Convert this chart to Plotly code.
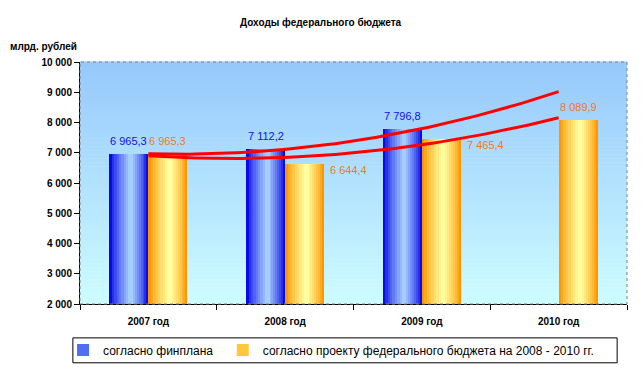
import plotly.graph_objects as go
import numpy as np

title = "Доходы федерального бюджета"
unit_label = "млрд. рублей"
categories = ["2007 год", "2008 год", "2009 год", "2010 год"]
finplan = [6965.3, 7112.2, 7796.8, None]
project = [6965.3, 6644.4, 7465.4, 8089.9]
series_names = ["согласно финплана", "согласно проекту федерального бюджета на 2008 - 2010 гг."]
project_label_pos = ["top", "right", "right", "top"]

FONT = "Arial, Liberation Sans, sans-serif"
x = list(range(len(categories)))
BW = 0.285  # bar width in category units


def fmt(v):
    return f"{v:,.1f}".replace(",", " ").replace(".", ",")


def lerp(c1, c2, t):
    return "rgb(%d,%d,%d)" % tuple(round(a + (b - a) * t) for a, b in zip(c1, c2))


fig = go.Figure()

# background gradient of plot area
nb = 60
bg_top, bg_bot = (150, 200, 252), (205, 252, 255)
for i in range(nb):
    fig.add_shape(type="rect", xref="paper", yref="paper", x0=0, x1=1,
                  y0=i / nb, y1=(i + 1) / nb + 0.002, line_width=0,
                  fillcolor=lerp(bg_bot, bg_top, (i + 0.5) / nb), layer="below")


def gradient_bars(vals, base_off, edge, light, name, legend_color, legend_id):
    layers = 9
    c = 0.55 * BW
    for k in range(layers):
        f = 1 - k / layers
        left = c - c * f
        right = c + (BW - c) * f
        t = (k / (layers - 1)) ** 0.8
        fig.add_trace(go.Bar(x=x, y=vals, width=right - left,
                             offset=base_off + left,
                             marker=dict(color=lerp(edge, light, t), line_width=0),
                             showlegend=False, hoverinfo="skip"))
    fig.add_trace(go.Bar(x=[None], y=[None], name=name, legend=legend_id,
                         marker=dict(color=legend_color, line_width=0), showlegend=True))


gradient_bars(finplan, -BW, (10, 10, 230), (165, 205, 255), series_names[0], "rgb(80,110,240)", "legend")
gradient_bars(project, 0.0, (255, 150, 0), (255, 255, 160), series_names[1], "rgb(255,200,60)", "legend2")

# polynomial (order 2) trendlines as in the original spreadsheet
xs = np.linspace(0, 3, 80)
for vals in (finplan, project):
    px = [i for i, v in zip(x, vals) if v is not None]
    py = [v for v in vals if v is not None]
    coef = np.polyfit(px, py, 2)
    fig.add_trace(go.Scatter(x=xs, y=np.polyval(coef, xs), mode="lines",
                             line=dict(color="#FF0000", width=3),
                             showlegend=False, hoverinfo="skip"))

# data labels
for i, v in enumerate(finplan):
    if v is None:
        continue
    fig.add_annotation(x=i - BW / 2, y=v, text=fmt(v), showarrow=False,
                       yshift=13, font=dict(family=FONT, size=11, color="#1010E0"))
for i, v in enumerate(project):
    if project_label_pos[i] == "top":
        fig.add_annotation(x=i + BW / 2, y=v, text=fmt(v), showarrow=False,
                           yshift=13, font=dict(family=FONT, size=11, color="#F07A1A"))
    else:
        fig.add_annotation(x=i + BW, y=v, text=fmt(v), showarrow=False,
                           xanchor="left", xshift=4, yshift=-6,
                           font=dict(family=FONT, size=11, color="#F07A1A"))

# titles
fig.add_annotation(xref="paper", yref="paper", x=0.44, y=1, yshift=47, text="<b>" + title + "</b>",
                   showarrow=False, font=dict(family=FONT, size=10, color="black"))
fig.add_annotation(xref="paper", yref="paper", x=-0.132, xanchor="left", y=1, yshift=23,
                   text="<b>" + unit_label + "</b>", showarrow=False,
                   font=dict(family=FONT, size=10, color="black"))

# plot border (dotted) and legend box
fig.add_shape(type="rect", xref="paper", yref="paper", x0=0, x1=1, y0=0, y1=1,
              line=dict(color="gray", width=1, dash="dot"))
fig.add_shape(type="rect", xref="paper", yref="paper", x0=-0.013, x1=0.982,
              y0=-0.14, y1=-0.243, line=dict(color="black", width=1))

leg_common = dict(orientation="h", y=-0.19, xanchor="left", yanchor="middle",
                  font=dict(family=FONT, size=12), bgcolor="rgba(0,0,0,0)", itemwidth=30)
# the page body adds an 8px offset, so margins are shifted to keep the plot area in place
fig.update_layout(
    width=643, height=375,
    margin=dict(l=72, r=24, t=54, b=79),
    paper_bgcolor="white", plot_bgcolor="rgba(0,0,0,0)",
    barmode="overlay", bargap=0,
    separators=", ",
    font=dict(family=FONT, size=10, color="black"),
    legend=dict(x=-0.031, **leg_common),
    legend2=dict(x=0.261, **leg_common),
    xaxis=dict(range=[-0.5, 3.5], tickvals=x, ticktext=categories, ticks="",
               showline=True, linecolor="black", showgrid=False, zeroline=False,
               tickfont=dict(family=FONT, size=10, weight="bold"), ticklabelstandoff=8,
               minor=dict(tickmode="linear", tick0=-0.5, dtick=1, ticks="outside",
                          ticklen=5, tickcolor="black", showgrid=False)),
    yaxis=dict(range=[2000, 10000], dtick=1000, tickformat=",", ticks="outside",
               ticklen=5, tickcolor="black", showline=True, linecolor="black",
               showgrid=False, zeroline=False,
               tickfont=dict(family=FONT, size=10, weight="bold")),
)

fig.write_html("out.html")
